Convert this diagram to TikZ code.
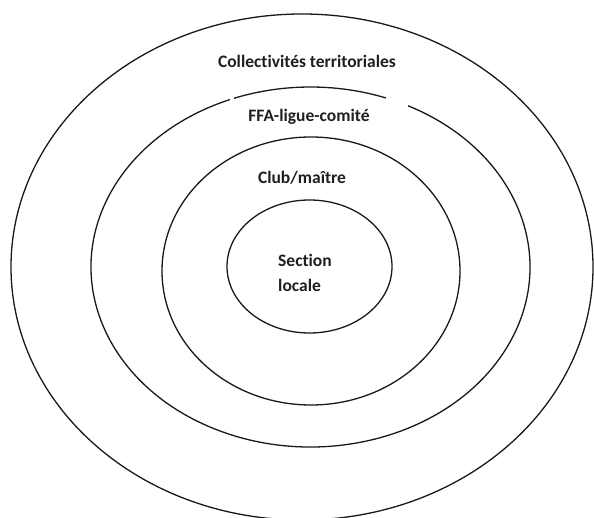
\documentclass[tikz,border=0pt]{standalone}
\usepackage{fontspec}
\setmainfont{Carlito}[Ligatures=NoCommon]
\usetikzlibrary{positioning}

\begin{document}
\begin{tikzpicture}[x=1pt,y=1pt,
		ring/.style={draw=black!90,line width=1.3pt},
		tag/.style={font=\fontsize{17.5}{25}\selectfont\bfseries,text=black!88,inner sep=0pt}]
	\useasboundingbox (0,0) rectangle (594,517);

	% centres of the four rings
	\coordinate (outer) at (302,250);
	\coordinate (ffa) at (310.5,250);
	\coordinate (club) at (311,246);
	\coordinate (section) at (309.5,250.5);

	\draw[ring] (outer) ellipse [x radius=291, y radius=253];
	% the second ring is broken at the top
	\draw[ring] ([shift={(63.6:219.5 and 180)}]ffa)
		arc[start angle=63.6, end angle=-248.5, x radius=219.5, y radius=180];
	\draw[ring] ([shift={(110.4:219.5 and 180)}]ffa)
		arc[start angle=110.4, end angle=69.9, x radius=219.5, y radius=180];
	\draw[ring] (club) ellipse [x radius=149, y radius=134];
	\draw[ring] (section) ellipse [x radius=82.5, y radius=66.5];

	\node[tag] (collect) at (307,456) {Collectivités territoriales};
	\node[tag] (ligue) at (309,400) {FFA-ligue-comité};
	\node[tag] (maitre) at (302,339) {Club/maître};
	\node[tag,align=left,anchor=west] (locale) at (278,244.5) {Section\\locale};
\end{tikzpicture}
\end{document}
